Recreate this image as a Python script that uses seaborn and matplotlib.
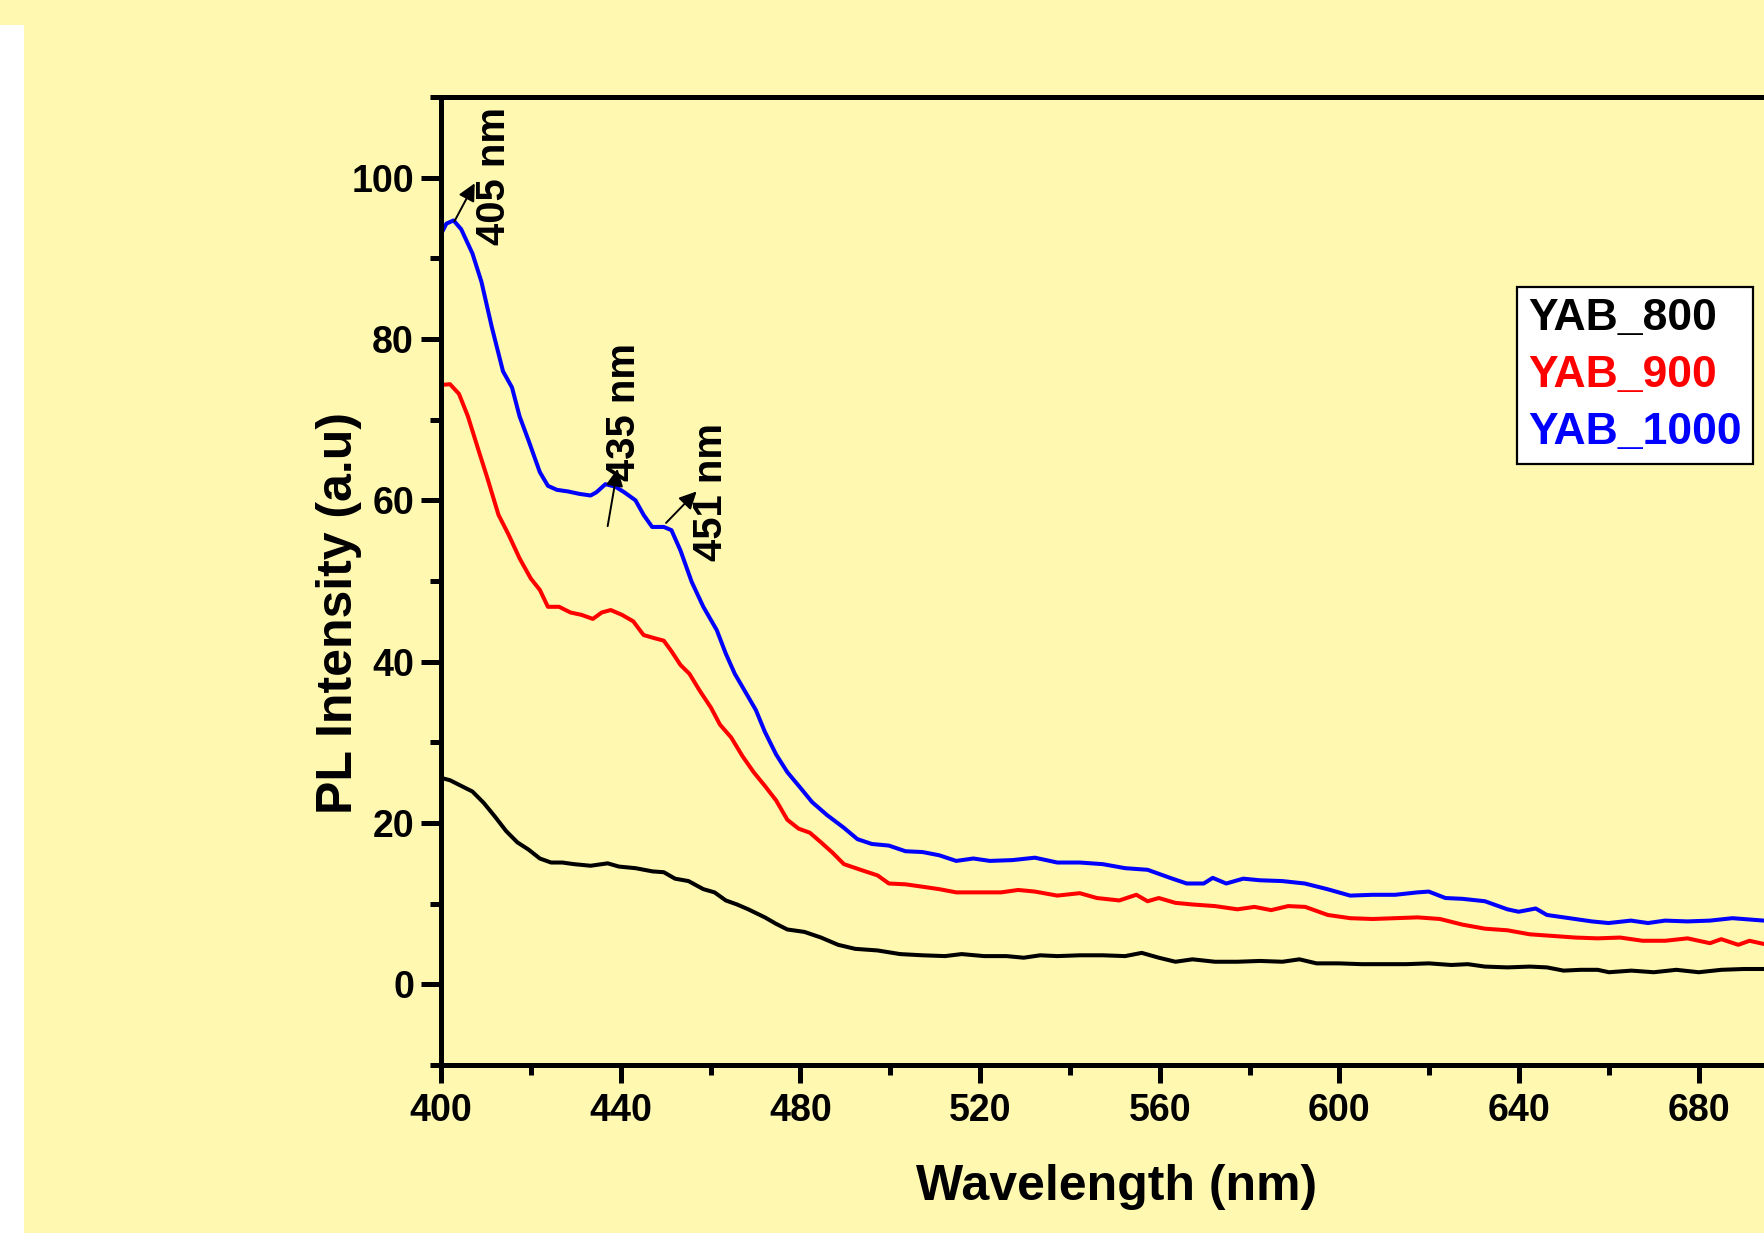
import numpy as np
import pandas as pd
import matplotlib
matplotlib.use("Agg")
import matplotlib.pyplot as plt
from matplotlib import font_manager as fm
from matplotlib.patches import Rectangle
import seaborn as sns

# ---------------- data ----------------
wl_1000 = [400, 401.2, 402.8, 404.5, 407, 409, 411.3, 413.8, 415.8, 417.5, 419.5, 422, 423.8, 425.8,
           428.3, 430.8, 433.3, 434.6, 436.6, 438.8, 440.8, 443.3, 445.1, 447, 449.6, 451.3, 453.3,
           455.8, 458.4, 461.4, 463.4, 465.4, 467.6, 470.1, 472.1, 474.6, 477.1, 480.1, 482.6, 485.9,
           489.7, 492.7, 495.9, 499.7, 503.4, 507.2, 510.9, 514.7, 518.5, 522.2, 527.2, 532.2, 537.2,
           542.2, 547.3, 552.3, 557.3, 562.3, 566, 569.8, 571.8, 574.8, 578.6, 582.3, 587.3, 592.3,
           597.3, 602.4, 607.4, 612.4, 617.4, 619.9, 623.6, 627.4, 632.4, 637.4, 639.9, 643.7, 646.2,
           651.2, 656.2, 659.9, 664.9, 668.7, 672.5, 677.5, 682.5, 687.5, 694.5, 698]
pl_1000 = [93.0, 94.3, 94.7, 93.6, 90.6, 87.1, 81.5, 76.0, 74.0, 70.4, 67.4, 63.5, 61.8, 61.3,
           61.1, 60.8, 60.6, 61.0, 62.0, 61.7, 61.0, 60.0, 58.2, 56.7, 56.7, 56.3, 53.8,
           49.9, 46.8, 43.9, 41.0, 38.5, 36.4, 34.0, 31.3, 28.5, 26.3, 24.3, 22.6, 21.0,
           19.4, 18.0, 17.4, 17.2, 16.5, 16.4, 16.0, 15.3, 15.6, 15.3, 15.4, 15.7, 15.1,
           15.1, 14.9, 14.4, 14.2, 13.2, 12.5, 12.5, 13.2, 12.5, 13.1, 12.9, 12.8, 12.5,
           11.8, 11.0, 11.1, 11.1, 11.4, 11.5, 10.7, 10.6, 10.3, 9.3, 9.0, 9.4, 8.6,
           8.2, 7.8, 7.6, 7.9, 7.6, 7.9, 7.8, 7.9, 8.2, 7.9, 7.9]

wl_900 = [400, 402, 404, 406, 408.3, 410.3, 412.8, 415, 417.5, 420, 422, 423.8, 426.3, 428.8, 431.3,
          433.8, 435.8, 437.8, 440.3, 442.8, 445.1, 447.6, 449.6, 451.3, 453.3, 455.3, 457.6, 460.1,
          462.1, 464.6, 467.1, 469.6, 472.1, 474.6, 477.1, 479.6, 482.1, 484.6, 487.2, 489.7, 493.4,
          497.2, 499.7, 503.4, 507.2, 510.9, 514.7, 519.7, 524.7, 528.5, 532.2, 537.2, 542.2, 546,
          551, 554.8, 557.3, 559.8, 563.5, 567.3, 572.3, 577.3, 581.1, 584.8, 588.6, 592.4, 597.4,
          602.4, 607.4, 612.4, 617.4, 622.4, 627.4, 632.4, 637.4, 642.4, 647.5, 652.5, 657.5, 662.5,
          667.5, 672.5, 677.5, 682.5, 685, 688.8, 691.3, 694.5, 698]
pl_900 = [74.3, 74.4, 73.2, 70.4, 66.3, 62.8, 58.2, 55.8, 52.8, 50.3, 48.9, 46.8, 46.8, 46.1, 45.8,
          45.3, 46.1, 46.4, 45.8, 45.0, 43.3, 42.9, 42.6, 41.3, 39.6, 38.5, 36.4, 34.3,
          32.2, 30.6, 28.3, 26.3, 24.6, 22.8, 20.4, 19.3, 18.8, 17.6, 16.3, 14.9, 14.2,
          13.5, 12.5, 12.4, 12.1, 11.8, 11.4, 11.4, 11.4, 11.7, 11.5, 11.0, 11.3, 10.7,
          10.4, 11.1, 10.3, 10.7, 10.1, 9.9, 9.7, 9.3, 9.6, 9.2, 9.7, 9.6, 8.6,
          8.2, 8.1, 8.2, 8.3, 8.1, 7.4, 6.9, 6.7, 6.2, 6.0, 5.8, 5.7, 5.8,
          5.4, 5.4, 5.7, 5.1, 5.6, 4.9, 5.4, 5.0, 5.0]

wl_800 = [400, 402, 404.5, 407, 409.5, 412, 414.5, 417, 419.5, 422, 424.5, 427, 429.6, 433.3, 437.1,
          439.6, 443.3, 447.1, 449.6, 452.1, 455.1, 458.4, 460.9, 463.4, 465.9, 468.4, 472.1, 474.6,
          477.1, 480.9, 484.6, 488.4, 492.2, 497.2, 502.2, 507.2, 512.2, 515.9, 520.9, 525.9, 529.7,
          533.4, 537.2, 542.2, 547.3, 552.3, 556, 559.8, 563.5, 567.3, 572.3, 577.3, 582.3, 587.3,
          591.1, 594.9, 599.9, 604.9, 609.9, 614.9, 619.9, 624.9, 628.6, 632.4, 637.4, 642.4, 646.2,
          649.9, 653.7, 657.5, 660, 665, 670, 675, 680, 685, 690, 694.5, 698]
pl_800 = [25.6, 25.3, 24.6, 23.9, 22.5, 20.8, 19.0, 17.6, 16.7, 15.6, 15.1, 15.1, 14.9, 14.7, 15.0,
          14.6, 14.4, 14.0, 13.9, 13.1, 12.8, 11.8, 11.4, 10.4, 9.9, 9.3, 8.3, 7.5,
          6.8, 6.5, 5.8, 4.9, 4.4, 4.2, 3.75, 3.6, 3.5, 3.75, 3.5, 3.5, 3.3,
          3.6, 3.5, 3.6, 3.6, 3.5, 3.9, 3.3, 2.8, 3.1, 2.8, 2.8, 2.9, 2.8,
          3.1, 2.6, 2.6, 2.5, 2.5, 2.5, 2.6, 2.4, 2.5, 2.2, 2.1, 2.2, 2.1,
          1.7, 1.8, 1.8, 1.5, 1.7, 1.5, 1.8, 1.5, 1.8, 1.9, 1.9, 1.9]

samples = ["YAB_800", "YAB_900", "YAB_1000"]
colors = ["#000000", "#FF0000", "#0000FF"]

peak_labels = ["405 nm", "435 nm", "451 nm"]
peak_text_xy = [(411.8, 100.2), (440.8, 70.9), (460.1, 61.0)]
peak_arrow_tail = [(403.0, 94.6), (437.1, 56.8), (450.1, 57.2)]
peak_arrow_head = [(407.5, 99.3), (439.3, 63.9), (456.9, 61.1)]

x_label = "Wavelength (nm)"
y_label = "PL Intensity (a.u)"

# ---------------- styling ----------------
sns.set_theme(style="ticks")
names = {f.name for f in fm.fontManager.ttflist}
if "Liberation Sans Narrow" in names:
    FONT, S, LF, AL = "Liberation Sans Narrow", 1.0, 34, 42
else:
    FONT, S, LF, AL = "Liberation Sans", 0.9, 32, 36
plt.rcParams["font.family"] = [FONT, "DejaVu Sans"]
plt.rcParams["font.weight"] = "bold"
plt.rcParams["axes.labelweight"] = "bold"
plt.rcParams["text.color"] = "black"
plt.rcParams["axes.labelcolor"] = "black"
plt.rcParams["xtick.color"] = "black"
plt.rcParams["ytick.color"] = "black"

BG = "#FFF8B0"
W, H = 1764, 1233
fig = plt.figure(figsize=(W / 100, H / 100), dpi=100, facecolor=BG)
fig.patches.append(Rectangle((0, 0), 24 / W, 1 - 25 / H, transform=fig.transFigure,
                             facecolor="white", edgecolor="none", zorder=0))

ax_left, ax_right, ax_top, ax_bot = 441, 441 + 300 * 4.492, 97, 1065
ax = fig.add_axes([ax_left / W, 1 - ax_bot / H, (ax_right - ax_left) / W, (ax_bot - ax_top) / H])
ax.set_facecolor(BG)

df = pd.concat([
    pd.DataFrame({"Wavelength": wl_800, "PL": pl_800, "Sample": samples[0]}),
    pd.DataFrame({"Wavelength": wl_900, "PL": pl_900, "Sample": samples[1]}),
    pd.DataFrame({"Wavelength": wl_1000, "PL": pl_1000, "Sample": samples[2]}),
], ignore_index=True)

sns.lineplot(data=df, x="Wavelength", y="PL", hue="Sample", hue_order=samples,
             palette=colors, estimator=None, sort=True, linewidth=2.9, ax=ax, legend=False)

ax.set_xlim(400, 700)
ax.set_ylim(-10, 110)
ax.set_xticks(np.arange(400, 700, 40))
ax.set_xticks(np.arange(420, 700, 40), minor=True)
ax.set_yticks(np.arange(0, 101, 20))
ax.set_yticks(np.arange(-10, 111, 20), minor=True)

for side in ["left", "bottom", "top", "right"]:
    ax.spines[side].set_linewidth(3.6)
    ax.spines[side].set_color("black")

ax.tick_params(axis="y", which="major", length=14.5, width=3.6, direction="out",
               labelsize=30 * S, pad=5, colors="black")
ax.tick_params(axis="y", which="minor", length=8, width=3.6, direction="out")
ax.tick_params(axis="x", which="major", length=13, width=3.6, direction="out",
               labelsize=30 * S, pad=7, colors="black")
ax.tick_params(axis="x", which="minor", length=7, width=3.6, direction="out")
for lab in ax.get_xticklabels() + ax.get_yticklabels():
    lab.set_fontweight("bold")

ax.set_xlabel(x_label, fontsize=AL, fontweight="bold", va="center", color="black")
ax.set_ylabel(y_label, fontsize=AL, fontweight="bold", va="center", color="black")
ax.xaxis.set_label_coords(1117 / W, 1 - 1187 / H, transform=fig.transFigure)
ax.yaxis.set_label_coords(338.6 / W, 1 - 613 / H, transform=fig.transFigure)

# peak annotations
for lab, txy, tail, head in zip(peak_labels, peak_text_xy, peak_arrow_tail, peak_arrow_head):
    ax.annotate("", xy=head, xytext=tail,
                arrowprops=dict(arrowstyle="-|>", color="black", lw=1.4, mutation_scale=26,
                                shrinkA=0, shrinkB=0))
    ax.text(txy[0], txy[1], lab, rotation=90, ha="center", va="center",
            fontsize=32 * S, fontweight="bold", color="black")

# legend (text only, coloured)
lines = ax.get_lines()[:3]
leg = ax.legend(lines, samples, loc="upper right",
                bbox_to_anchor=(1753 / W, 1 - 287 / H), bbox_transform=fig.transFigure,
                borderaxespad=0, handlelength=0, handletextpad=0, labelspacing=0.36,
                borderpad=0.25, frameon=True, fancybox=False, framealpha=1,
                prop={"weight": "bold", "size": LF})
leg.get_frame().set_facecolor("white")
leg.get_frame().set_edgecolor("black")
leg.get_frame().set_linewidth(1.6)
for h in leg.legend_handles:
    h.set_visible(False)
for t, c in zip(leg.get_texts(), colors):
    t.set_color(c)

fig.savefig("out.png", dpi=100, facecolor=BG)
